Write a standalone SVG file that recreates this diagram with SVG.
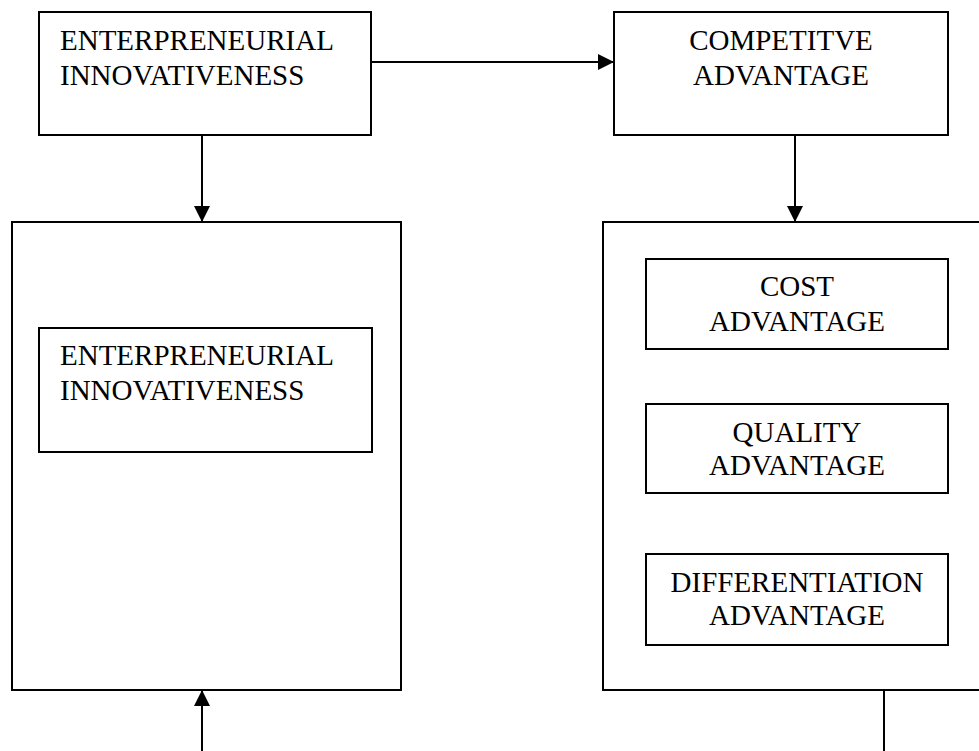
<svg xmlns="http://www.w3.org/2000/svg" width="979" height="751" viewBox="0 0 979 751">
<style>
.box{fill:#fff;stroke:#000;stroke-width:2}
.t{font-family:"Liberation Serif","Times New Roman",serif;font-size:29px;fill:#000}
.c{text-anchor:middle}
.ln{stroke:#000;stroke-width:2;fill:none}
</style>
<defs>
<marker id="ah" viewBox="0 0 16 16" refX="16" refY="8" markerWidth="16" markerHeight="16" markerUnits="userSpaceOnUse" orient="auto">
<path d="M0,0 L16,8 L0,16 Z" fill="#000"/>
</marker>
</defs>
<rect width="979" height="751" fill="#fff"/>
<g id="connectors">
<line class="ln" x1="371" y1="62" x2="614" y2="62" marker-end="url(#ah)"/>
<line class="ln" x1="202" y1="135" x2="202" y2="222" marker-end="url(#ah)"/>
<line class="ln" x1="795" y1="135" x2="795" y2="222" marker-end="url(#ah)"/>
<line class="ln" x1="202" y1="751" x2="202" y2="690" marker-end="url(#ah)"/>
<line class="ln" x1="884" y1="690" x2="884" y2="751"/>
</g>
<g id="ei-top">
<rect class="box" x="39" y="12" width="332" height="123"/>
<text class="t" x="60" y="50">ENTERPRENEURIAL</text>
<text class="t" x="60" y="85">INNOVATIVENESS</text>
</g>
<g id="ca-top">
<rect class="box" x="614" y="12" width="334" height="123"/>
<text class="t c" x="781" y="50">COMPETITVE</text>
<text class="t c" x="781" y="85">ADVANTAGE</text>
</g>
<g id="left-container">
<rect class="box" x="12" y="222" width="389" height="468"/>
</g>
<g id="ei-inner">
<rect class="box" x="39" y="328" width="333" height="124"/>
<text class="t" x="60" y="365">ENTERPRENEURIAL</text>
<text class="t" x="60" y="400">INNOVATIVENESS</text>
</g>
<g id="right-container">
<rect class="box" x="603" y="222" width="390" height="468"/>
</g>
<g id="cost">
<rect class="box" x="646" y="259" width="302" height="90"/>
<text class="t c" x="797" y="296">COST</text>
<text class="t c" x="797" y="331">ADVANTAGE</text>
</g>
<g id="quality">
<rect class="box" x="646" y="404" width="302" height="89"/>
<text class="t c" x="797" y="442">QUALITY</text>
<text class="t c" x="797" y="475">ADVANTAGE</text>
</g>
<g id="differentiation">
<rect class="box" x="646" y="554" width="302" height="91"/>
<text class="t c" x="797" y="592">DIFFERENTIATION</text>
<text class="t c" x="797" y="625">ADVANTAGE</text>
</g>
</svg>
